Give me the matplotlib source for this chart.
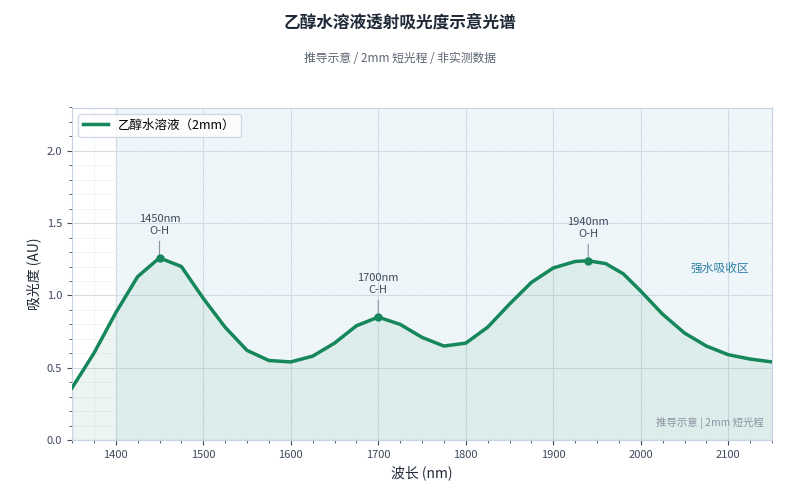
import matplotlib
matplotlib.use("Agg")
from matplotlib import pyplot as plt
from matplotlib.ticker import MultipleLocator

plt.rcParams['font.family'] = ['Noto Sans CJK SC', 'DejaVu Sans']

wavelength = [1350, 1375, 1400, 1425, 1450, 1475, 1500, 1525, 1550, 1575,
              1600, 1625, 1650, 1675, 1700, 1725, 1750, 1775, 1800, 1825,
              1850, 1875, 1900, 1925, 1940, 1960, 1980, 2000, 2025, 2050,
              2075, 2100, 2125, 2150]
absorbance = [0.36, 0.60, 0.88, 1.13, 1.26, 1.20, 0.98, 0.78, 0.62, 0.55,
              0.54, 0.58, 0.67, 0.79, 0.85, 0.80, 0.71, 0.65, 0.67, 0.78,
              0.94, 1.09, 1.19, 1.235, 1.24, 1.22, 1.15, 1.03, 0.87, 0.74,
              0.65, 0.59, 0.56, 0.54]
peaks = [1450, 1700, 1940]
peak_vals = [1.26, 0.85, 1.24]
peak_labels = ['1450nm\nO-H', '1700nm\nC-H', '1940nm\nO-H']

green = '#15875a'
fig = plt.figure(figsize=(8, 5), dpi=100)
ax = fig.add_axes([0.09, 0.12, 0.875, 0.665])
ax.axvspan(1400, 2150, color='#e3f0f6', alpha=0.6, zorder=0)
ax.plot(wavelength, absorbance, color=green, lw=2.5, label='乙醇水溶液（2mm）', zorder=3)
ax.fill_between(wavelength, absorbance, color=green, alpha=0.08, zorder=2)
ax.scatter(peaks, peak_vals, color=green, s=25, zorder=4)
for px, py, lab in zip(peaks, peak_vals, peak_labels):
    ax.annotate(lab, (px, py), xytext=(0, 16), textcoords='offset points',
                ha='center', va='bottom', fontsize=8, color='#3d4a5c',
                arrowprops=dict(arrowstyle='-', color='#8a94a3', lw=0.8))
ax.text(2090, 1.16, '强水吸收区', color='#2f7fa6', fontsize=8.5, ha='center')
ax.text(2140, 0.1, '推导示意 | 2mm 短光程', color='#8a94a3', fontsize=7.5, ha='right')

ax.set_xlim(1350, 2150)
ax.set_ylim(0, 2.3)
ax.xaxis.set_major_locator(MultipleLocator(100))
ax.xaxis.set_minor_locator(MultipleLocator(25))
ax.yaxis.set_major_locator(MultipleLocator(0.5))
ax.yaxis.set_minor_locator(MultipleLocator(0.1))
ax.grid(which='major', color='#d3dbe5', lw=0.8)
ax.grid(which='minor', color='#eef2f6', lw=0.6)
ax.set_axisbelow(True)
for s in ax.spines.values():
    s.set_color('#c8d2e0')
ax.tick_params(labelsize=8, colors='#3d4a5c')
ax.tick_params(which='both', color='#3d4a5c')
ax.set_xlabel('波长 (nm)', fontsize=10, color='#1f2937')
ax.set_ylabel('吸光度 (AU)', fontsize=10, color='#1f2937')
ax.legend(loc='upper left', fontsize=9, frameon=True, edgecolor='#c8d2e0')

fig.text(0.5, 0.945, '乙醇水溶液透射吸光度示意光谱', ha='center', fontsize=12,
         fontweight='bold', color='#1f2937')
fig.text(0.5, 0.875, '推导示意 / 2mm 短光程 / 非实测数据', ha='center', fontsize=8.5,
         color='#5b6472')
fig.savefig('out.png', dpi=100)
